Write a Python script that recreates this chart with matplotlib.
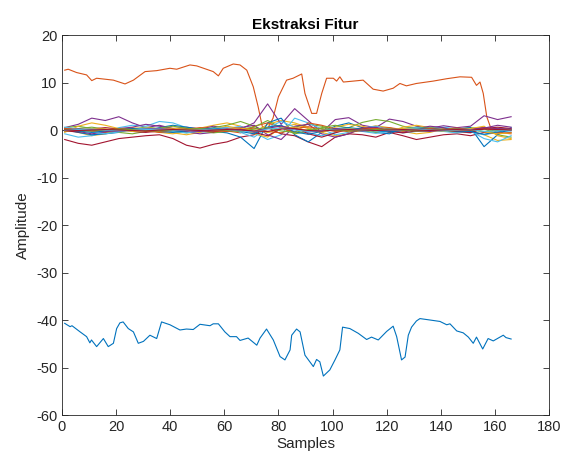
import matplotlib
matplotlib.use('Agg')
import matplotlib.pyplot as plt
import numpy as np

plt.rcParams['font.family'] = ['Liberation Sans', 'DejaVu Sans']
plt.rcParams['axes.unicode_minus'] = False

# MATLAB default colour order
colors = ['#0072BD', '#D95319', '#EDB120', '#7E2F8E', '#77AC30', '#4DBEEE', '#A2142F']

# first coefficient (large negative)
c1_x = [1, 3, 3.7, 6.7, 9.1, 10.3, 10.9, 12.8, 15.3, 17.1, 19, 20.2, 21.4, 22.6, 24.5, 26.4,
        28.2, 30.1, 32.5, 35, 36.8, 39.9, 43.6, 46, 48.5, 51, 54.7, 55.9, 57.8, 60.2, 62.1,
        64.5, 65.8, 68.8, 72, 73.2, 75.6, 78.1, 80.6, 82.4, 84.3, 84.9, 86.7, 88, 89.8, 92.9,
        94.1, 95.3, 96.6, 99, 100.9, 102.7, 103.7, 106.4, 109.5, 112.6, 114.4, 116.9, 120,
        122.4, 123.7, 125.5, 126.8, 128, 129.2, 131, 132.3, 134.8, 139.7, 142.2, 143.4, 145.9,
        148.3, 150.2, 152, 153.2, 155.5, 157.5, 159.4, 163.1, 164.1, 166]
c1_y = [-40.7, -41.4, -41.2, -42.5, -43.5, -44.8, -44.2, -45.6, -43.9, -45.6, -44.9, -41.8,
        -40.6, -40.4, -41.8, -42.5, -44.9, -44.5, -43.2, -43.9, -40.4, -41.0, -42.1, -41.9,
        -42.0, -40.9, -41.2, -40.8, -40.8, -42.5, -43.5, -43.5, -44.3, -43.8, -45.3, -43.8,
        -41.9, -44.2, -47.7, -48.4, -46.3, -43.2, -41.9, -42.5, -47.4, -49.8, -48.3, -48.8,
        -51.8, -50.5, -48.4, -46.3, -41.5, -41.8, -42.8, -44.1, -43.6, -44.2, -42.4, -41.3,
        -43.5, -48.4, -47.8, -43.2, -41.5, -40.2, -39.7, -39.9, -40.3, -41.0, -40.8, -42.3,
        -42.7, -43.6, -44.9, -43.6, -46.1, -43.9, -44.4, -43.2, -43.7, -44.0]

# second coefficient (around +10)
c2_x = [1, 2.3, 5.4, 9.1, 11, 12.8, 19, 23.3, 26.4, 30.7, 35, 39.9, 42.4, 47.3, 49.8, 55.9,
        57.8, 59.6, 63.3, 65.8, 68.3, 70.7, 72.5, 74, 76, 78, 80, 83, 85.4, 88.6, 89.8, 92.3,
        94.1, 96, 97.8, 100.3, 101.5, 102.7, 104, 107.7, 111.3, 115, 118.7, 122.4, 124.9,
        127.3, 131, 137.2, 142.2, 147.1, 151.4, 153.2, 154.5, 155.7, 157, 158.5, 161, 166]
c2_y = [12.6, 12.8, 12.1, 11.6, 10.4, 10.9, 10.5, 9.7, 10.5, 12.3, 12.5, 13.0, 12.8, 13.7,
        13.5, 12.3, 11.4, 13.0, 13.9, 13.7, 12.6, 9.1, 4.9, 0.8, 0.3, 2.5, 7.0, 10.5, 10.9,
        11.8, 7.7, 3.5, 3.5, 7.7, 10.9, 10.9, 10.3, 11.2, 10.1, 10.3, 10.5, 8.6, 8.2, 8.8,
        9.8, 9.3, 9.8, 10.3, 10.8, 11.2, 11.1, 9.4, 10.1, 7.7, 2.8, 0.4, 0.2, 0.1]

# remaining coefficients, read every 5 samples
grid_x = list(range(1, 167, 5))
c3 = [0.3, -0.5, -1.2, -0.8, -0.3, 0.5, 0.2, -0.5, -0.8, -0.3, 0.4, 1.0, 1.5, 0.8, -0.5, 1.2, 2.0,
      1.5, 0.5, -0.5, -1.2, -0.8, 0.3, 0.9, 0.5, -0.3, -0.8, -0.5, 0.2, 0.5, -0.2, -1.0, -2.2, -2.0]
c4 = [0.5, 1.2, 2.5, 2.0, 2.8, 1.5, 0.5, 1.0, 0.3, 0.6, 0.2, 0.8, 0.4, 0.2, 1.5, 5.5, 1.2,
      4.5, 2.0, -0.5, 2.2, 2.6, 1.0, 0.5, 2.3, 1.8, 0.8, 0.4, 0.9, 0.5, 0.8, 3.0, 2.2, 2.8]
c5 = [0.5, 0.8, 0.3, -0.5, -0.3, 0.2, 0.6, 0.3, -0.2, -0.6, -0.3, 0.5, 1.0, 1.8, 0.8, -0.5, 0.3,
      0.6, 1.2, 0.8, -0.2, 0.5, 1.6, 2.2, 1.8, 0.8, 0.3, 0.6, 0.4, 0.2, 0.5, 0.3, -1.0, -1.5]
c6 = [-0.8, -1.5, -1.2, -0.5, 0.5, 1.0, 0.8, 1.8, 1.5, 0.5, -0.5, -0.2, 0.3, 0.8, -0.5, -2.0,
      -1.0, 2.5, 1.5, 0.2, -1.0, -0.5, 0.4, 0.8, 0.2, -0.6, -0.3, 0.3, 0.6, 0.2, -0.4, -1.0, -0.5, -0.2]
c7 = [-2.0, -2.8, -3.2, -2.5, -1.8, -1.5, -1.2, -1.0, -1.8, -3.2, -3.8, -3.0, -2.5, -1.5, -1.0,
      0.5, -0.8, -1.2, -2.5, -3.5, -1.5, -0.8, -1.0, -1.5, -0.5, -1.2, -2.0, -1.5, -1.0, -0.8,
      -1.2, -0.5, -0.8, -0.5]
c8 = [0.0, -0.5, -1.0, -0.8, -0.5, 0.3, -0.2, 0.5, 1.0, 0.6, 0.2, -0.3, -0.6, -1.5, -3.9, 1.5,
      2.5, -1.0, -2.5, -0.5, 0.8, 1.5, 0.5, -0.5, -0.8, 0.3, 0.5, 0.0, -0.3, 0.2, 0.5, -3.5, -1.0, 0.5]
c9 = [0.4, 0.2, -0.3, -0.5, 0.2, 0.4, -0.2, -0.5, -0.3, 0.2, 0.5, 0.3, -0.2, -0.6, 0.8, 1.5, 0.5,
      -0.5, 1.5, 1.0, 0.2, -0.4, -0.2, 0.3, 0.5, 0.1, -0.3, -0.1, 0.2, 0.4, 0.1, 0.6, -0.5, -0.8]
c10 = [-0.5, 0.8, 1.5, 1.0, 0.3, -0.2, 0.5, 0.2, -0.6, -1.0, -0.5, 0.2, 0.8, 0.3, -0.8, -1.5, 0.5,
       1.2, 0.3, -0.5, 0.6, 1.2, 0.8, 0.2, -0.4, 0.6, 1.0, 0.5, 0.0, -0.4, 0.3, 0.8, -1.2, -1.8]
c11 = [0.2, -0.3, -0.8, -0.4, 0.3, 0.6, 1.2, 0.8, 0.3, -0.4, -0.8, -0.5, 0.2, 0.5, 1.0, -1.0, -2.0,
       0.8, 1.2, -0.8, -1.5, -0.8, 0.4, 0.6, -0.2, -0.5, 0.3, 0.8, 0.5, -0.3, -0.6, 0.4, 1.0, 0.6]
c12 = [-0.3, 0.3, 0.6, 0.2, -0.5, -0.8, -0.3, 0.4, 0.8, 0.4, -0.2, -0.6, -0.3, 0.2, 0.6, 2.0, 0.5,
       -0.8, -0.3, 0.5, 1.0, 0.4, -0.2, -0.5, -0.2, 0.3, 0.6, 0.3, -0.2, -0.5, -0.3, 0.2, 0.4, 0.2]
c13 = [0.6, 0.2, -0.4, -0.8, -0.4, 0.1, 0.4, 0.1, -0.3, -0.6, -0.2, 0.3, 0.5, -0.5, -1.5, 0.5, 1.8,
       0.6, -0.6, -1.2, -0.5, 0.2, -0.3, -0.7, -0.3, 0.2, 0.5, 0.2, -0.3, -0.6, -0.2, -1.8, -2.5, -1.2]
c14 = [-0.2, -0.4, 0.2, 0.5, 0.2, -0.3, -0.5, -0.2, 0.3, 0.2, -0.2, -0.4, 0.1, 0.3, -0.5, -1.2, 0.3,
       0.6, -0.8, -1.5, -0.6, 0.2, 0.4, 0.1, -0.3, -0.6, -0.2, 0.2, 0.0, -0.3, -0.5, 0.3, 0.6, 0.3]
c15 = [0.1, -0.2, -0.5, -0.2, 0.2, 0.3, 0.0, -0.3, -0.5, -0.2, 0.2, 0.4, 0.1, -0.3, -0.8, 0.6, 1.0,
       -0.4, -0.9, -0.3, 0.3, 0.5, 0.2, -0.2, -0.4, -0.1, 0.3, 0.4, 0.1, -0.2, -0.3, -0.9, -0.4, 0.0]
c16 = [0.3, 0.1, -0.2, 0.1, 0.3, 0.1, -0.2, -0.3, 0.0, 0.2, 0.1, -0.2, -0.3, 0.1, 0.4, -0.3, -0.6,
       0.3, 0.7, 0.2, -0.3, -0.1, 0.2, 0.3, 0.0, -0.2, 0.1, 0.3, 0.1, -0.1, 0.0, 0.4, 0.2, 0.1]
c17 = [-0.2, 0.0, 0.3, 0.2, -0.1, -0.3, -0.1, 0.2, 0.4, 0.1, -0.2, -0.1, 0.2, 0.4, 0.0, -0.5, 0.4,
       0.6, -0.2, -0.4, 0.1, 0.3, 0.0, -0.2, 0.1, 0.3, 0.2, -0.1, -0.2, 0.1, 0.2, -0.4, -0.8, -0.6]
c18 = [0.0, 0.2, 0.1, -0.2, -0.3, 0.0, 0.2, 0.3, 0.1, -0.2, -0.3, 0.0, 0.2, 0.1, -0.3, 0.4, 0.8,
       0.2, -0.4, -0.2, 0.3, 0.1, -0.2, 0.0, 0.2, 0.1, -0.2, -0.3, 0.0, 0.2, 0.1, 0.5, 0.3, 0.2]
c19 = [0.1, -0.1, -0.2, 0.0, 0.2, 0.1, -0.1, -0.2, 0.0, 0.2, 0.3, 0.1, -0.1, -0.3, 0.2, 0.5, -0.2,
       -0.5, 0.1, 0.3, 0.0, -0.2, -0.1, 0.1, 0.2, 0.0, -0.2, -0.1, 0.1, 0.2, 0.0, -0.3, -0.1, 0.0]
c20 = [-0.1, 0.1, 0.2, 0.0, -0.2, -0.1, 0.1, 0.2, 0.0, -0.1, 0.0, 0.2, 0.1, -0.2, -0.4, 0.2, 0.4,
       0.0, -0.3, -0.1, 0.1, 0.2, 0.0, -0.2, -0.1, 0.1, 0.2, 0.0, -0.1, 0.0, 0.1, -0.3, -0.2, 0.0]
c21 = [0.0, -0.1, 0.0, 0.1, 0.0, -0.1, -0.2, 0.0, 0.1, 0.0, -0.1, 0.0, 0.1, 0.0, -0.2, -0.3, 0.2,
       0.3, -0.1, -0.2, 0.0, 0.1, 0.0, -0.1, 0.0, 0.1, 0.0, -0.1, 0.0, 0.1, 0.0, 0.2, 0.1, 0.0]

small_series = [c3, c4, c5, c6, c7, c8, c9, c10, c11, c12, c13, c14, c15, c16, c17, c18, c19, c20, c21]

fig = plt.figure(figsize=(5.61, 4.62), dpi=100, facecolor='w')
ax = fig.add_axes([0.1105, 0.1017, 0.8681, 0.8225])

ax.plot(c1_x, c1_y, color=colors[0], linewidth=0.8)
ax.plot(c2_x, c2_y, color=colors[1], linewidth=0.8)
for i, s in enumerate(small_series):
    ax.plot(grid_x, s, color=colors[(i + 2) % 7], linewidth=0.8)

ax.set_xlim(0, 180)
ax.set_ylim(-60, 20)
ax.set_xticks(np.arange(0, 181, 20))
ax.set_yticks(np.arange(-60, 21, 10))
ax.tick_params(direction='in', top=True, right=True, labelsize=10.5, colors='#262626',
               length=4, width=0.6)
for sp in ax.spines.values():
    sp.set_color('#262626')
    sp.set_linewidth(0.6)

ax.set_xlabel('Samples', fontsize=11, color='#262626', labelpad=2)
ax.set_ylabel('Amplitude', fontsize=11, color='#262626', labelpad=4)
ax.set_title('Ekstraksi Fitur', fontsize=11, fontweight='bold', pad=4)

fig.savefig('out.png', dpi=100)
